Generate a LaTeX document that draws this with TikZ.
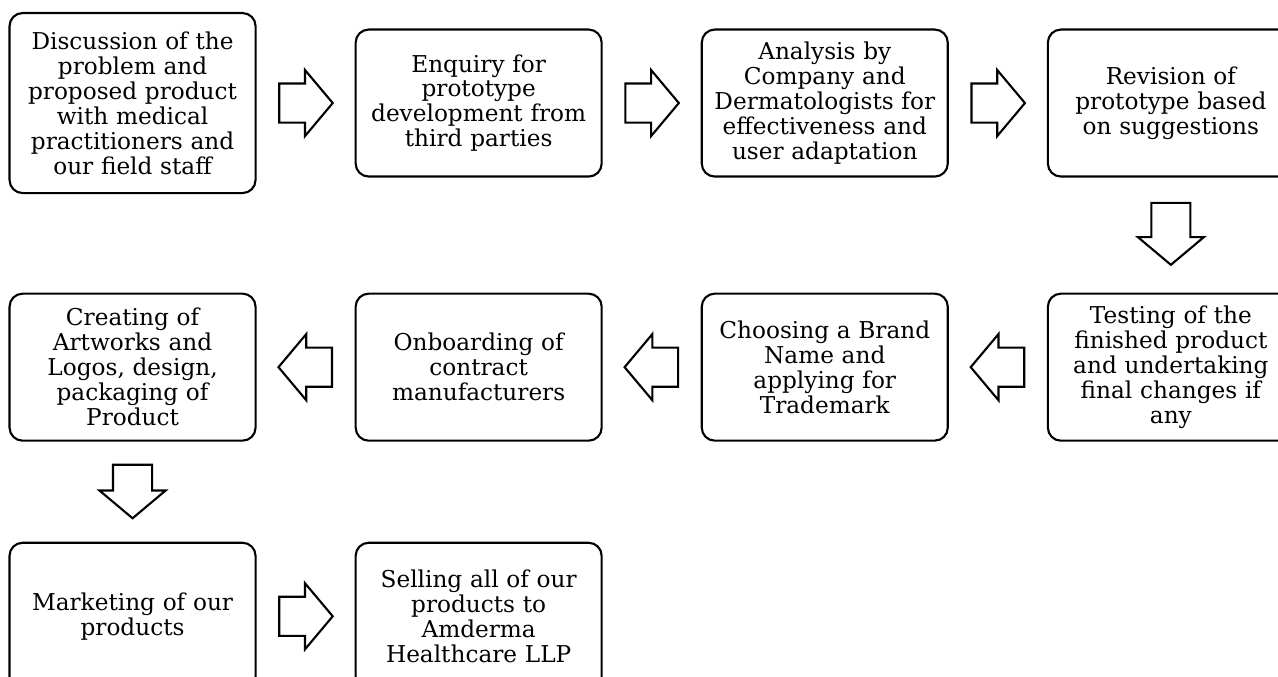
\documentclass[tikz,border=0pt]{standalone}
\usepackage{fontspec}
\setmainfont{DejaVu Serif}
\usetikzlibrary{shapes,arrows,positioning,calc}

\tikzset{
    stage/.style={rectangle, draw, line width=1.2pt, rounded corners=0.26cm, align=center,
        text width=4.6cm, inner xsep=0.16cm, minimum height=2.94cm,
        font=\fontsize{13.2pt}{14.2pt}\selectfont},
    blockarrow/.style={single arrow, draw, line width=1.2pt, inner xsep=0pt, inner ysep=0.37cm,
        minimum height=1.07cm, anchor=tail,
        single arrow head extend=0.27cm, single arrow tip angle=100}
}

\begin{document}
\begin{tikzpicture}[node distance=1.96cm]

    \useasboundingbox (0,0) rectangle (25.56,-13.54);

        %-----First row-----
        % Discussion Stage
        \node [stage, minimum height=3.6cm, anchor=north west] (disc) at (0.17,-0.24) {%
            Discussion of the \\
            problem and \\
            proposed product \\
            with medical \\
            practitioners and \\
            our field staff
        };

        % Enquiry Stage
        \node [stage, right=of disc] (enq) {%
            Enquiry for \\
            prototype \\
            development from \\
            third parties
        };

        % Analysis Stage
        \node [stage, right=of enq] (anal) {%
            Analysis by \\
            Company and \\
            Dermatologists for \\
            effectiveness and \\
            user adaptation
        };

        % Revision Stage
        \node [stage, right=of anal] (revi) {%
            Revision of \\
            prototype based \\
            on suggestions
        };

        %-----Second row-----
        % Testing Stage
        \node [stage, below=2.3cm of revi] (test) {%
            Testing of the \\
            finished product \\
            and undertaking \\
            final changes if \\
            any
        };

        % Brand Stage
        \node [stage, left=of test] (brand) {%
            Choosing a Brand \\
            Name and \\
            applying for \\
            Trademark
        };

        % Onboarding Stage
        \node [stage, left=of brand] (onb) {%
            Onboarding of \\
            contract \\
            manufacturers
        };

        % Artwork Stage
        \node [stage, left=of onb] (art) {%
            Creating of \\
            Artworks and \\
            Logos, design, \\
            packaging of \\
            Product
        };

        %-----Third row-----
        % Marketing Stage
        \node [stage, below=2cm of art] (mkt) {%
            Marketing of our \\
            products
        };

        % Selling Stage
        \node [stage, right=of mkt] (sell) {%
            Selling all of our \\
            products to \\
            Amderma \\
            Healthcare LLP
        };

        %-----Arrows-----
        \node [blockarrow] (a1) at ($(disc.east)!0.22!(enq.west)$) {};
        \node [blockarrow] (a2) at ($(enq.east)!0.22!(anal.west)$) {};
        \node [blockarrow] (a3) at ($(anal.east)!0.22!(revi.west)$) {};

        \node [blockarrow, rotate=-90, minimum height=1.24cm] (a4) at ($(revi.south)!0.21!(test.north)$) {};

        \node [blockarrow, rotate=180] (a5) at ($(test.west)!0.22!(brand.east)$) {};
        \node [blockarrow, rotate=180] (a6) at ($(brand.west)!0.22!(onb.east)$) {};
        \node [blockarrow, rotate=180] (a7) at ($(onb.west)!0.22!(art.east)$) {};

        \node [blockarrow, rotate=-90] (a8) at ($(art.south)!0.22!(mkt.north)$) {};

        \node [blockarrow] (a9) at ($(mkt.east)!0.22!(sell.west)$) {};

\end{tikzpicture}
\end{document}
